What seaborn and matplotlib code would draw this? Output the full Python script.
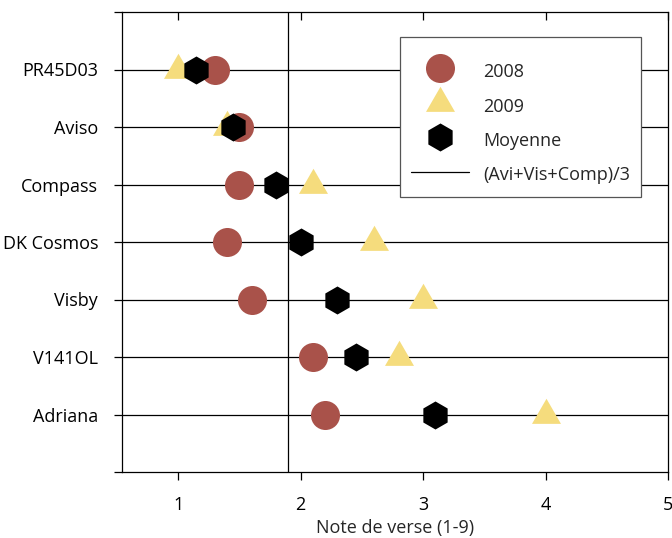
import matplotlib
matplotlib.use("Agg")
import matplotlib.pyplot as plt
import seaborn as sns
import pandas as pd
import numpy as np
from matplotlib.lines import Line2D
from matplotlib.markers import MarkerStyle
from matplotlib.path import Path
from matplotlib import font_manager

# ---- data ----
varieties = ["PR45D03", "Aviso", "Compass", "DK Cosmos", "Visby", "V141OL", "Adriana"]
note_2008 = [1.3, 1.5, 1.5, 1.4, 1.6, 2.1, 2.2]
note_2009 = [1.0, 1.4, 2.1, 2.6, 3.0, 2.8, 4.0]
moyenne = [1.15, 1.45, 1.8, 2.0, 2.3, 2.45, 3.1]
ref_line = 1.9
x_ticks = [1, 2, 3, 4, 5]
series_labels = ["2008", "2009", "Moyenne", "(Avi+Vis+Comp)/3"]
x_label = "Note de verse (1-9)"

# ---- style ----
sns.set_theme(style="white")
fam = "DejaVu Sans"
for cand in ["Liberation Sans Narrow", "Open Sans"]:
    try:
        font_manager.findfont(cand, fallback_to_default=False)
        fam = cand
        break
    except Exception:
        pass
plt.rcParams["font.family"] = [fam, "DejaVu Sans"]

C2008 = "#A9524A"
C2009 = "#F5DC7D"
CMOY = "#000000"
FS = 13

tri = MarkerStyle(Path([(0, 1.1547), (-1, -0.57735), (1, -0.57735), (0, 1.1547)],
                       [Path.MOVETO, Path.LINETO, Path.LINETO, Path.CLOSEPOLY]))
MS_C, MS_T, MS_H = 20.9, 24.1, 20.2

fig = plt.figure(figsize=(6.72, 5.38), dpi=100)
ax = fig.add_axes([121.7 / 672, 1 - 472 / 538, (668 - 121.7) / 672, 460 / 538])

df = pd.DataFrame({"variete": varieties, "y2008": note_2008,
                   "y2009": note_2009, "moy": moyenne})
df["pos"] = np.arange(len(varieties))

for p in df["pos"]:
    ax.axhline(p, color="black", lw=0.9, zorder=1)
ax.axvline(ref_line, color="black", lw=0.9, zorder=1)

sns.scatterplot(data=df, x="y2008", y="pos", ax=ax, marker="o", s=MS_C ** 2,
                color=C2008, linewidth=0, zorder=3)
sns.scatterplot(data=df, x="y2009", y="pos", ax=ax, marker=tri, s=MS_T ** 2,
                color=C2009, linewidth=0, zorder=4)
sns.scatterplot(data=df, x="moy", y="pos", ax=ax, marker="h", s=MS_H ** 2,
                color=CMOY, linewidth=0, zorder=5)

ax.set_xlim(0.54, 5)
ax.set_ylim(7, -1)
ax.set_xticks(x_ticks)
ax.set_xticklabels([str(t) for t in x_ticks])
ax.set_yticks(list(range(-1, len(varieties) + 1)))
ax.set_yticklabels([""] + varieties + [""])
ax.set_xlabel(x_label, fontsize=FS, labelpad=4)
ax.set_ylabel("")
ax.tick_params(axis="both", bottom=True, left=True, direction="out", length=6,
               width=0.9, color="black", pad=11, labelsize=FS, labelcolor="black")

sec = ax.secondary_xaxis("top")
sec.set_xticks(x_ticks)
sec.tick_params(direction="in", length=6, width=0.9, color="black", top=True, labeltop=False)
sec.spines["top"].set_visible(False)

for s in ax.spines.values():
    s.set_visible(True)
    s.set_color("black")
    s.set_linewidth(0.9)

handles = [
    Line2D([], [], marker="o", color=C2008, ms=MS_C, linestyle="none", markeredgewidth=0),
    Line2D([], [], marker=tri, color=C2009, ms=MS_T, linestyle="none", markeredgewidth=0),
    Line2D([], [], marker="h", color=CMOY, ms=MS_H, linestyle="none", markeredgewidth=0),
    Line2D([], [], color="black", lw=0.9),
]
leg = ax.legend(handles, series_labels, loc="upper right", bbox_to_anchor=(0.951, 0.946),
                frameon=True, fancybox=False, framealpha=1, edgecolor="#555555",
                fontsize=FS, handlelength=3.2, handletextpad=0.83, labelspacing=0.62,
                handleheight=1.6, borderpad=0.59, borderaxespad=0,
                title=" ", title_fontsize=0.5)
leg.get_frame().set_linewidth(0.9)

fig.savefig("out.png", dpi=100)
